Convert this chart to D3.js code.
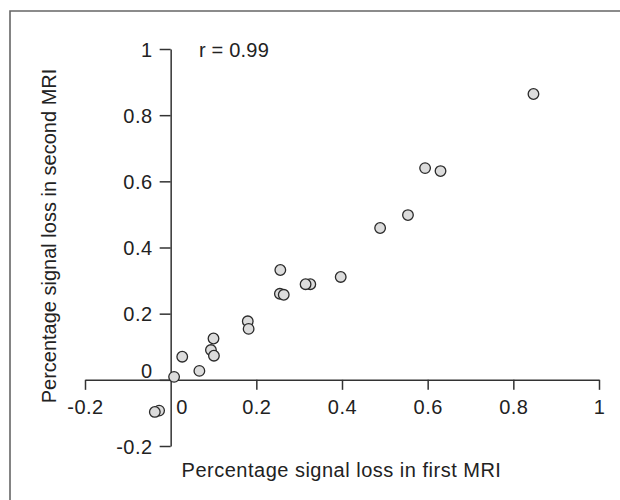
<!DOCTYPE html>
<html>
<head>
<meta charset="utf-8">
<script src="https://cdn.jsdelivr.net/npm/d3@7"></script>
<style>
  html, body { margin: 0; padding: 0; background: #fff; }
  svg { display: block; }
  text { font-family: "Liberation Sans", Arial, Helvetica, sans-serif; fill: #222; }
</style>
</head>
<body>
<svg id="chart" width="620" height="500"></svg>
<script>
// Data
const firstMRI  = [0.847, 0.594, 0.630, 0.554, 0.489, 0.397, 0.326, 0.315, 0.256, 0.255, 0.264,
                   0.180, 0.182, 0.100, 0.094, 0.101, 0.027, 0.067, 0.008, -0.027, -0.037];
const secondMRI = [0.864, 0.640, 0.631, 0.498, 0.459, 0.311, 0.289, 0.289, 0.332, 0.260, 0.257,
                   0.177, 0.154, 0.125, 0.090, 0.073, 0.070, 0.027, 0.009, -0.093, -0.097];
const xTicks = [-0.2, 0, 0.2, 0.4, 0.6, 0.8, 1];
const yTicks = [-0.2, 0, 0.2, 0.4, 0.6, 0.8, 1];
const tickLabels = ["-0.2", "0", "0.2", "0.4", "0.6", "0.8", "1"];
const xTitle = "Percentage signal loss in first MRI";
const yTitle = "Percentage signal loss in second MRI";
const annotation = "r = 0.99";

const svg = d3.select("#chart");
const fmt = (d, i) => tickLabels[i];

// frame (open on right and bottom)
svg.append("path")
  .attr("d", "M10,505 L10,11 L625,11")
  .attr("fill", "none").attr("stroke", "#666").attr("stroke-width", 1.6);

const x = d3.scaleLinear().domain([-0.2, 1]).range([85, 599]);
const y = d3.scaleLinear().domain([-0.2, 1]).range([446, 49]);

// x axis at y = 0
const xAxis = svg.append("g")
  .attr("transform", `translate(0,${y(0)})`)
  .call(d3.axisBottom(x).tickValues(xTicks).tickFormat(fmt).tickSize(10).tickSizeOuter(0).tickPadding(10));
xAxis.select(".domain").attr("stroke", "#333").attr("stroke-width", 1.5);
xAxis.selectAll(".tick line").attr("stroke", "#333").attr("stroke-width", 1.5);
xAxis.selectAll(".tick text")
  .attr("font-size", 20).attr("fill", "#222")
  .attr("letter-spacing", 0.5)
  .attr("font-family", "'Liberation Sans', Arial, sans-serif")
  .attr("dx", d => d === 0 ? 11 : 0);
xAxis.selectAll(".tick").filter(d => d === 0).select("line").remove();

// y axis at x = 0
const yAxis = svg.append("g")
  .attr("transform", `translate(${x(0)},0)`)
  .call(d3.axisLeft(y).tickValues(yTicks).tickFormat(fmt).tickSize(11).tickSizeOuter(0).tickPadding(7));
yAxis.select(".domain").attr("stroke", "#333").attr("stroke-width", 1.5);
yAxis.selectAll(".tick line").attr("stroke", "#333").attr("stroke-width", 1.5);
yAxis.selectAll(".tick text")
  .attr("font-size", 20).attr("fill", "#222")
  .attr("letter-spacing", 0.5)
  .attr("font-family", "'Liberation Sans', Arial, sans-serif")
  .attr("dy", d => d === 0 ? "-0.1em" : "0.35em");

// points
svg.append("g").selectAll("circle")
  .data(firstMRI.map((v, i) => [v, secondMRI[i]]))
  .join("circle")
  .attr("cx", d => x(d[0]))
  .attr("cy", d => y(d[1]))
  .attr("r", 5.3)
  .attr("fill", "#dcdcdc")
  .attr("stroke", "#2a2a2a")
  .attr("stroke-width", 1.3);

// annotation
svg.append("text")
  .attr("x", 199).attr("y", 57)
  .attr("font-size", 20)
  .attr("letter-spacing", 0.2)
  .text(annotation);

// axis titles
svg.append("text")
  .attr("x", 341.5).attr("y", 477)
  .attr("text-anchor", "middle")
  .attr("font-size", 20)
  .attr("letter-spacing", 0.5)
  .text(xTitle);

svg.append("text")
  .attr("transform", "translate(56,236) rotate(-90)")
  .attr("text-anchor", "middle")
  .attr("font-size", 20)
  .text(yTitle);
</script>
</body>
</html>
